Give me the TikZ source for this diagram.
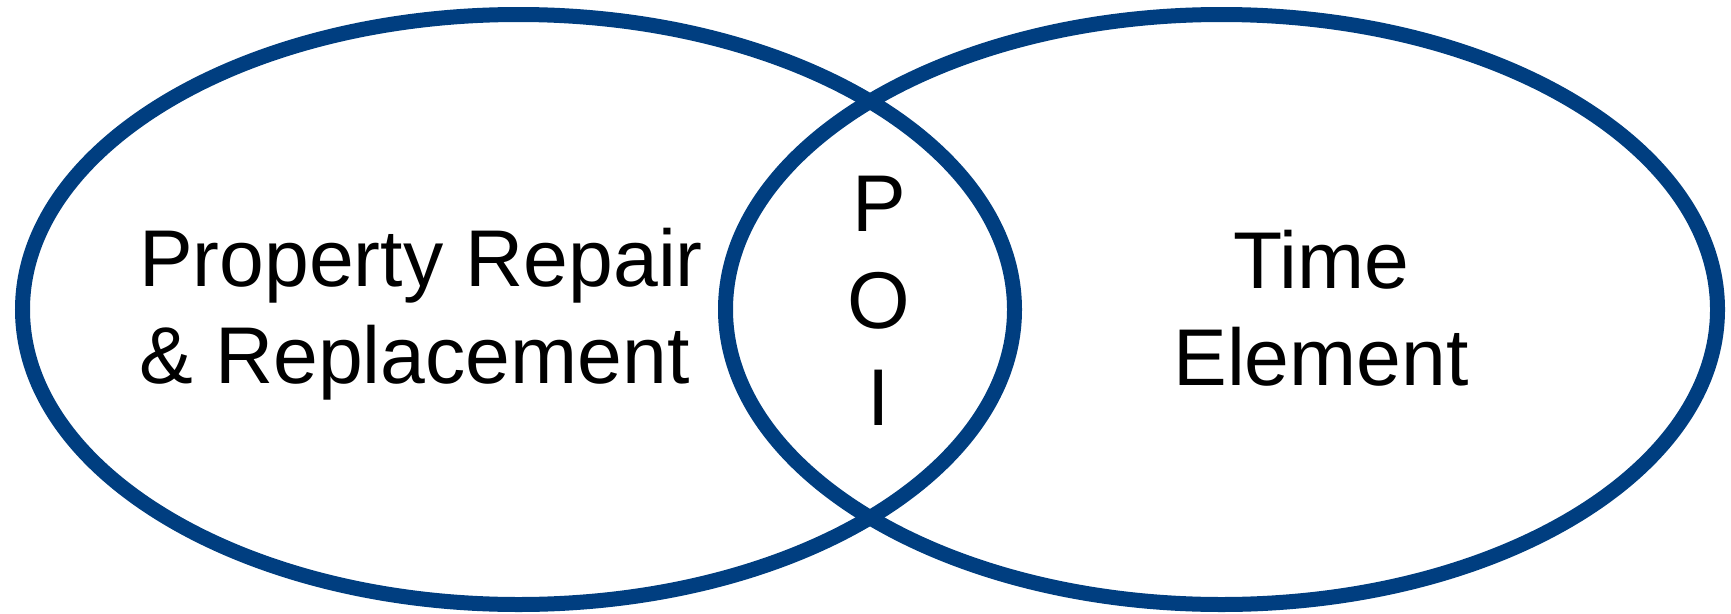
\documentclass[tikz,border=0pt]{standalone}
\usepackage{fontspec}
\setmainfont{Liberation Sans}
\usepackage{xcolor}
\definecolor{ringblue}{RGB}{0,62,128}

\begin{document}
\begin{tikzpicture}[x=1pt,y=-1pt,every node/.style={anchor=base,inner sep=0pt},
  ring/.style={draw=ringblue,line width=15pt},
  label/.style={font=\fontsize{80.5}{97}\selectfont}]
  \useasboundingbox (0,0) rectangle (1731,613);
  \draw[ring] (518.5,309.5) ellipse [x radius=496,y radius=295];
  \draw[ring] (1221.5,309.5) ellipse [x radius=496,y radius=295];
  % multi-line nodes sit on the baseline of their last line
  \node[label,align=left,anchor=base west] (prr) at (139,383) {Property Repair\\\& Replacement};
  \node[label,align=center] (poi) at (879,425) {P\\O\\I};
  \node[label,align=center] (time) at (1321,385) {Time\\Element};
\end{tikzpicture}
\end{document}
